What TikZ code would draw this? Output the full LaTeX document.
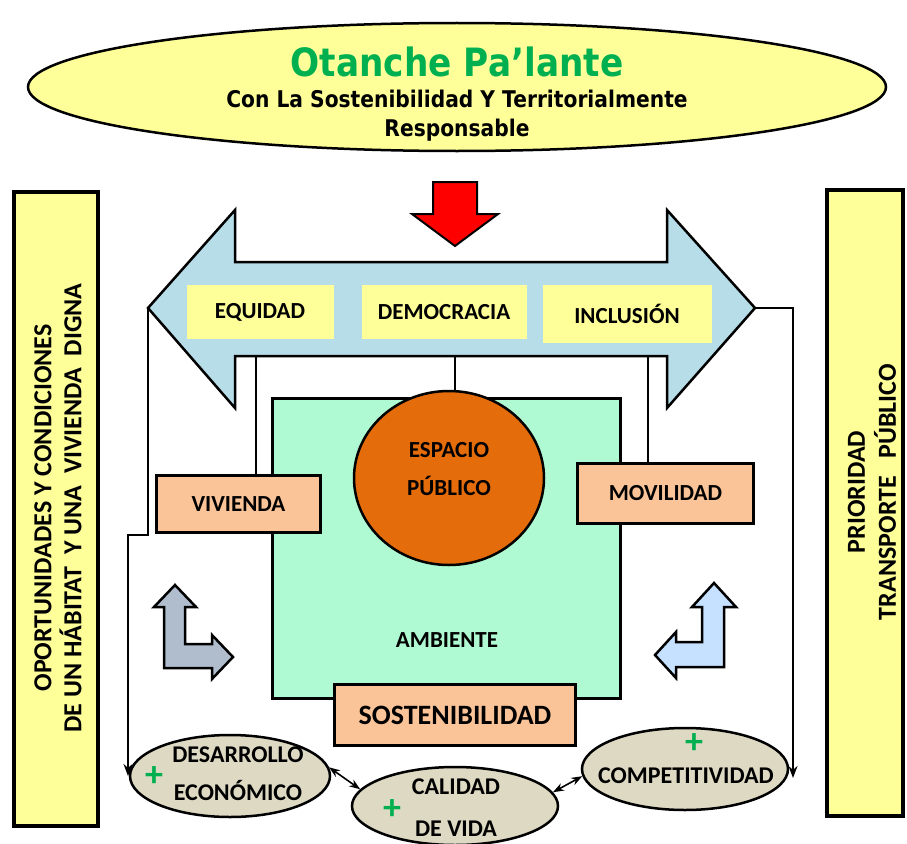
\documentclass[tikz,border=0pt]{standalone}
\usepackage{fontspec}
\setmainfont{Carlito}
\newfontfamily\titlefont[FakeStretch=0.88]{DejaVu Sans}
\usetikzlibrary{shapes, arrows, positioning, arrows.meta}
\usepackage{xcolor}
\definecolor{paleyellow}{RGB}{255, 255, 153}
\definecolor{arrowblue}{RGB}{183, 221, 232}
\definecolor{mint}{RGB}{176, 250, 211}
\definecolor{peach}{RGB}{250, 196, 152}
\definecolor{deeporange}{RGB}{228, 108, 10}
\definecolor{beige}{RGB}{221, 217, 195}
\definecolor{slate}{RGB}{176, 189, 205}
\definecolor{sky}{RGB}{198, 224, 255}
\definecolor{leafgreen}{RGB}{0, 176, 80}
\newcommand{\fs}[1]{\fontsize{#1}{#1}\selectfont}

\begin{document}
\begin{tikzpicture}[x=1pt, y=-1pt, line width=2pt, every node/.style={font=\bfseries\fs{23}},
    tag/.style={fill=paleyellow, inner sep=0pt, minimum height=54pt},
    side/.style={draw, line width=4pt, fill=paleyellow},
    peachbox/.style={draw, line width=3pt, fill=peach, inner sep=0pt},
    goal/.style={ellipse, draw, line width=2.5pt, fill=beige, minimum width=204pt, minimum height=80pt},
    plus/.style={text=leafgreen, font=\bfseries\fs{36}},
    conn/.style={line width=1.6pt, -{Stealth[length=12pt, width=9pt]}},
    link/.style={line width=1.6pt, {Stealth[length=11pt, width=8pt]}-{Stealth[length=11pt, width=8pt]}}]
    \useasboundingbox (0,0) rectangle (907,843);

    % heading
    \node [ellipse, draw, line width=2.5pt, fill=paleyellow, minimum width=858pt, minimum height=128pt] (head) at (457,87) {};
    \node [text=leafgreen, font=\titlefont\bfseries\fs{39}] (title) at (457,62) {Otanche Pa’lante};
    \node [align=center, font=\titlefont\bfseries\fontsize{23}{29}\selectfont] (sub) at (457,116) {Con La Sostenibilidad Y Territorialmente\\Responsable};

    % side columns
    \node [side, minimum width=84pt, minimum height=634pt] (left) at (56,509) {};
    \node [rotate=90, align=center, font=\bfseries\fontsize{26}{30}\selectfont] at (58,508) {OPORTUNIDADES Y CONDICIONES\\DE UN HÁBITAT\ \ Y UNA\ \ VIVIENDA\ \ DIGNA};
    \node [side, minimum width=76pt, minimum height=626pt] (right) at (865,503) {};
    \node [rotate=90, align=center, font=\bfseries\fontsize{26}{31}\selectfont] at (872,492) {PRIORIDAD\\TRANSPORTE\ \ \ PÚBLICO};

    % red arrow and the big double arrow
    \draw [fill=red] (433,182) -- (477,182) -- (477,214) -- (498,214) -- (455,246) -- (412,214) -- (433,214) -- cycle;
    \draw [fill=arrowblue, line width=2.5pt] (148,308) -- (235,210) -- (235,262) -- (667,262) -- (667,210) -- (755,308)
        -- (667,408) -- (667,356) -- (235,356) -- (235,408) -- cycle;
    \coordinate (ltip) at (148,308);
    \coordinate (rtip) at (755,308);
    \node [tag, minimum width=147pt] (equ) at (260,312) {EQUIDAD};
    \node [tag, minimum width=165pt] (dem) at (444,312) {DEMOCRACIA};
    \node [tag, minimum width=169pt, minimum height=58pt] (inc) at (627,314) {INCLUSIÓN};

    % centre block
    \node [draw, line width=3.5pt, fill=mint, minimum width=348pt, minimum height=300pt] (amb) at (446.5,548.5) {};
    \node (ambtxt) at (447,640) {AMBIENTE};
    \coordinate (dembase) at (455,356);
    \draw (dembase) -- (dembase |- 0,392);
    \node [ellipse, draw, line width=2.5pt, fill=deeporange, minimum width=190pt, minimum height=174pt] (esp) at (449,478) {};
    \node [align=center, font=\bfseries\fontsize{23}{38}\selectfont] (esptxt) at (449,469) {ESPACIO\\PÚBLICO};
    \node [peachbox, minimum width=164pt, minimum height=57pt] (viv) at (238.5,504) {VIVIENDA};
    \node [peachbox, minimum width=176pt, minimum height=60pt] (mov) at (665.5,493.5) {MOVILIDAD};
    \node [peachbox, minimum width=241pt, minimum height=61pt, font=\bfseries\fs{28}] (sos) at (455,715) {SOSTENIBILIDAD};
    \coordinate (vivtop) at (256,356);
    \coordinate (movtop) at (648,356);
    \draw [line width=2.5pt] (vivtop) -- (vivtop |- viv.north);
    \draw [line width=2.5pt] (movtop) -- (movtop |- mov.north);

    % turning arrows
    \draw [fill=slate, line width=2.5pt] (175,585) -- (196,607) -- (185,607) -- (185,644) -- (212,644) -- (212,635) -- (233,657)
        -- (212,679) -- (212,668) -- (164,668) -- (164,607) -- (154,607) -- cycle;
    \draw [fill=sky, line width=2.5pt] (714,583) -- (736,607) -- (724,607) -- (724,667) -- (676,667) -- (676,678) -- (655,655)
        -- (676,632) -- (676,642) -- (702,642) -- (702,607) -- (692,607) -- cycle;

    % outcomes
    \node [goal, minimum width=200pt, minimum height=82pt] (des) at (230,776) {};
    \node [goal, minimum width=206pt, minimum height=78pt] (cal) at (455,806) {};
    \node [goal, minimum width=206pt, minimum height=82pt] (comp) at (685,769) {};
    \node [align=center, font=\bfseries\fontsize{24}{38}\selectfont] (destxt) at (238,774) {DESARROLLO\\ECONÓMICO};
    \node [align=center, font=\bfseries\fontsize{24}{42}\selectfont] (caltxt) at (456,808) {CALIDAD\\DE VIDA};
    \node [font=\bfseries\fs{24}] (comptxt) at (686,776) {COMPETITIVIDAD};
    \node [plus] at (154,777) {+};
    \node [plus] at (392,810) {+};
    \node [plus] at (694,744) {+};
    \draw [link] (des.5) -- (cal.170);
    \draw [link] (cal.8) -- (comp.184);

    % feedback lines
    \coordinate (lbend) at (128,535);
    \coordinate (rbend) at (793,308);
    \coordinate (rend) at (793,778);
    \draw [conn] (ltip) |- (lbend) -- (lbend |- des.west);
    \draw [conn] (rtip) -- (rbend) -- (rend);
\end{tikzpicture}
\end{document}
